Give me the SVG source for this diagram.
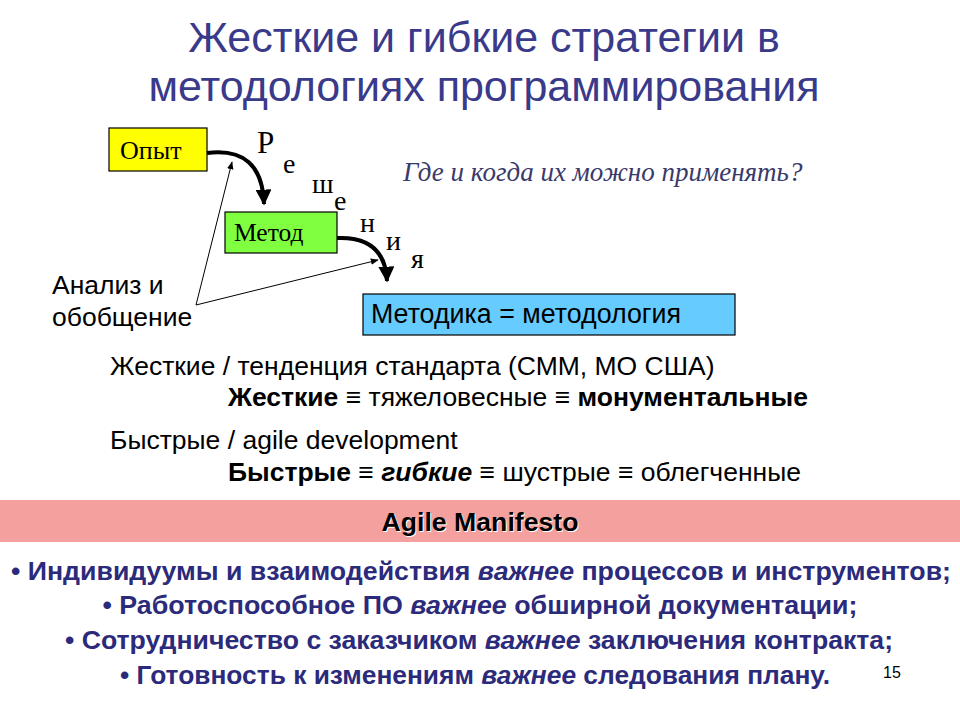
<svg xmlns="http://www.w3.org/2000/svg" width="960" height="720" viewBox="0 0 960 720">
<defs>
<style>
.t{font-family:"Liberation Sans",Arial,sans-serif;fill:#3A3A8A;font-size:43px;text-anchor:middle}
.s{font-family:"Liberation Serif","Times New Roman",serif;font-size:28px;fill:#000}
.a{font-family:"Liberation Sans",Arial,sans-serif;font-size:26.5px;fill:#000}
.b{font-family:"Liberation Sans",Arial,sans-serif;font-size:25px;font-weight:bold;fill:#2B2A7B;text-anchor:middle}
.box{stroke:#000;stroke-width:1.2}
</style>
<marker id="h" viewBox="0 0 10 10" refX="9" refY="5" markerWidth="4" markerHeight="4" orient="auto"><path d="M0,0L10,5L0,10z" fill="#000"/></marker>
<marker id="t" viewBox="0 0 10 10" refX="9" refY="5" markerWidth="8" markerHeight="8" orient="auto"><path d="M0,1L10,5L0,9z" fill="#000"/></marker>
</defs>
<rect width="960" height="720" fill="#fff"/>
<text class="t" x="484" y="52">Жесткие и гибкие стратегии в</text>
<text class="t" x="484" y="101">методологиях программирования</text>
<g id="n-opyt"><rect class="box" x="109" y="128" width="98" height="43" fill="#FFFF00"/><text class="s" x="120" y="159" style="font-size:26px">Опыт</text></g>
<g id="n-metod"><rect class="box" x="225" y="212" width="112" height="41" fill="#7FFF3F"/><text class="s" x="234" y="241" style="font-size:25.5px">Метод</text></g>
<g id="n-metodika"><rect class="box" x="363" y="294" width="372" height="41" fill="#66CCFF"/><text class="a" x="371" y="323" style="font-size:26.8px">Методика = методология</text></g>
<g id="n-analiz"><text class="a" x="52" y="294">Анализ и</text><text class="a" x="52" y="326">обобщение</text></g>
<g id="letters">
<text class="s" x="257" y="153" style="font-size:31px">Р</text>
<text class="s" x="283" y="173">е</text>
<text class="s" x="312" y="193">ш</text>
<text class="s" x="334" y="210">е</text>
<text class="s" x="360" y="232">н</text>
<text class="s" x="386" y="250">и</text>
<text class="s" x="411" y="268">я</text>
</g>
<text class="s" x="403" y="181" style="font-size:27px;font-style:italic;fill:#3A3A6A">Где и когда их можно применять?</text>
<g id="connectors" fill="none" stroke="#000">
<path d="M207,153 Q262,146 264,204" stroke-width="4" marker-end="url(#h)"/>
<path d="M337,238 Q385,236 387,281" stroke-width="4" marker-end="url(#h)"/>
<path d="M196,305 L232,162" stroke-width="1" marker-end="url(#t)"/>
<path d="M196,305 L378,260" stroke-width="1" marker-end="url(#t)"/>
</g>
<text class="a" x="110" y="375">Жесткие / тенденция стандарта (СММ, МО США)</text>
<text class="a" x="228" y="406"><tspan font-weight="bold">Жесткие</tspan> ≡ тяжеловесные ≡ <tspan font-weight="bold">монументальные</tspan></text>
<text class="a" x="110" y="449">Быстрые / agile development</text>
<text class="a" x="228" y="481"><tspan font-weight="bold">Быстрые</tspan> ≡ <tspan font-weight="bold" font-style="italic">гибкие</tspan> ≡ шустрые ≡ облегченные</text>
<rect x="0" y="500" width="960" height="42" fill="#F4A09E"/>
<text x="481" y="532" font-family="Liberation Sans,Arial,sans-serif" font-size="25" font-weight="bold" text-anchor="middle" fill="#fff" textLength="197" lengthAdjust="spacingAndGlyphs">Agile Manifesto</text>
<text x="480" y="531" font-family="Liberation Sans,Arial,sans-serif" font-size="25" font-weight="bold" text-anchor="middle" fill="#000" textLength="197" lengthAdjust="spacingAndGlyphs">Agile Manifesto</text>
<text class="b" x="481" y="580" textLength="940" lengthAdjust="spacingAndGlyphs">• Индивидуумы и взаимодействия <tspan font-style="italic">важнее</tspan> процессов и инструментов;</text>
<text class="b" x="480" y="614" textLength="755" lengthAdjust="spacingAndGlyphs">• Работоспособное ПО <tspan font-style="italic">важнее</tspan> обширной документации;</text>
<text class="b" x="479" y="649" textLength="828" lengthAdjust="spacingAndGlyphs">• Сотрудничество с заказчиком <tspan font-style="italic">важнее</tspan> заключения контракта;</text>
<text class="b" x="475" y="684" textLength="710" lengthAdjust="spacingAndGlyphs">• Готовность к изменениям <tspan font-style="italic">важнее</tspan> следования плану.</text>
<text x="883" y="678" font-family="Liberation Sans,Arial,sans-serif" font-size="16" fill="#000">15</text>
</svg>
